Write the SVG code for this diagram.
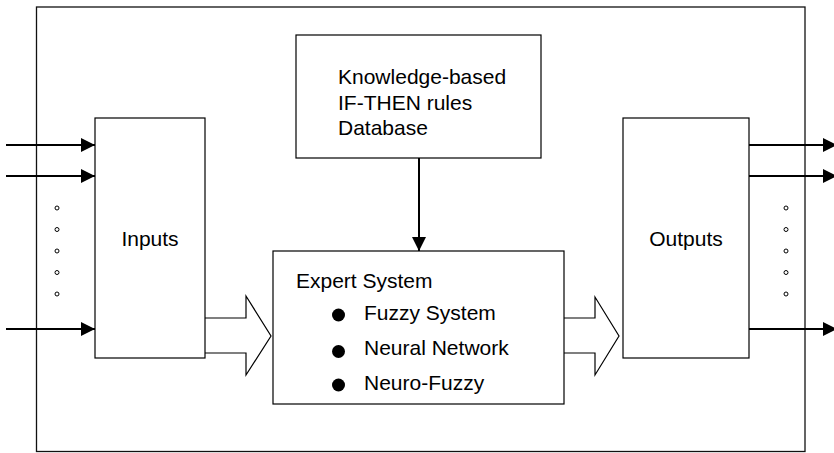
<svg xmlns="http://www.w3.org/2000/svg" width="834" height="453" viewBox="0 0 834 453">
  <defs>
    <marker id="head" viewBox="0 0 14 14" refX="14" refY="7" markerWidth="14" markerHeight="14" markerUnits="userSpaceOnUse" orient="auto">
      <path d="M0,0 L14,7 L0,14 Z" fill="#000"/>
    </marker>
  </defs>
  <style>
    .box { fill: #fff; stroke: #000; stroke-width: 1.2; }
    .frame { fill: none; stroke: #111; stroke-width: 1.3; }
    .wire { stroke: #000; stroke-width: 2; fill: none; marker-end: url(#head); }
    .fat { fill: #fff; stroke: #000; stroke-width: 1.2; stroke-linejoin: miter; }
    .dot { fill: #fff; stroke: #000; stroke-width: 1; }
    .bullet { fill: #000; }
    text { font-family: "Liberation Sans", Arial, sans-serif; font-size: 21px; fill: #000; }
  </style>
  <rect width="834" height="453" fill="#fff"/>

  <!-- system boundary -->
  <rect class="frame" x="36.5" y="7" width="768.5" height="444.5"/>

  <g id="connectors">
    <!-- signal lines into the input stage -->
    <line class="wire" x1="6" y1="145" x2="95" y2="145"/>
    <line class="wire" x1="6" y1="176" x2="95" y2="176"/>
    <line class="wire" x1="6" y1="329" x2="95" y2="329"/>
    <!-- signal lines out of the output stage -->
    <line class="wire" x1="749" y1="145" x2="837" y2="145"/>
    <line class="wire" x1="749" y1="176" x2="837" y2="176"/>
    <line class="wire" x1="749" y1="329" x2="837" y2="329"/>
    <!-- rule base feeding the expert system -->
    <line class="wire" x1="419" y1="158" x2="419" y2="251"/>
    <!-- wide data-flow arrows -->
    <path class="fat" d="M205,318 L246,318 L246,296 L271,336 L246,375 L246,353 L205,353"/>
    <path class="fat" d="M564,318 L595,318 L595,297 L619,336 L595,375 L595,353 L564,353"/>
    <!-- ellipsis dots for further inputs / outputs -->
    <g>
      <circle class="dot" cx="57" cy="208" r="2"/>
      <circle class="dot" cx="57" cy="229.5" r="2"/>
      <circle class="dot" cx="57" cy="251" r="2"/>
      <circle class="dot" cx="57" cy="272.5" r="2"/>
      <circle class="dot" cx="57" cy="294" r="2"/>
      <circle class="dot" cx="786" cy="208" r="2"/>
      <circle class="dot" cx="786" cy="229.5" r="2"/>
      <circle class="dot" cx="786" cy="251" r="2"/>
      <circle class="dot" cx="786" cy="272.5" r="2"/>
      <circle class="dot" cx="786" cy="294" r="2"/>
    </g>
  </g>

  <g id="inputs">
    <rect class="box" x="95" y="118" width="110" height="240"/>
    <text x="150" y="246" text-anchor="middle">Inputs</text>
  </g>

  <g id="outputs">
    <rect class="box" x="623" y="118" width="126" height="240"/>
    <text x="686" y="246" text-anchor="middle">Outputs</text>
  </g>

  <g id="knowledge-base">
    <rect class="box" x="296" y="35" width="245" height="123"/>
    <text x="338" y="84">Knowledge-based</text>
    <text x="338" y="109.5">IF-THEN rules</text>
    <text x="338" y="135">Database</text>
  </g>

  <g id="expert-system">
    <rect class="box" x="273" y="251" width="291" height="153"/>
    <text x="296" y="288">Expert System</text>
    <circle class="bullet" cx="338.5" cy="315" r="6.5"/>
    <text x="364" y="320">Fuzzy System</text>
    <circle class="bullet" cx="338.5" cy="351.5" r="6.5"/>
    <text x="364" y="355">Neural Network</text>
    <circle class="bullet" cx="338.5" cy="385" r="6.5"/>
    <text x="364" y="390">Neuro-Fuzzy</text>
  </g>
</svg>
